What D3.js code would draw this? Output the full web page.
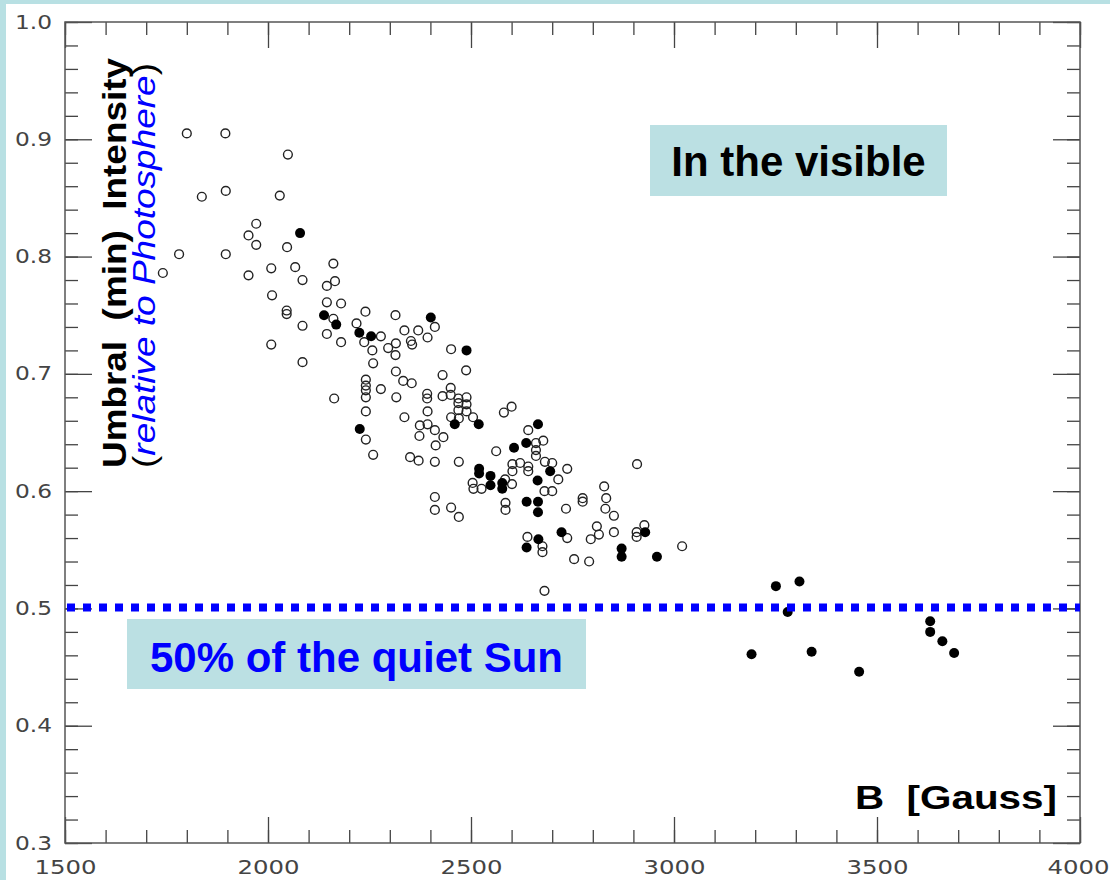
<!DOCTYPE html>
<html>
<head>
<meta charset="utf-8">
<script src="https://cdn.jsdelivr.net/npm/d3@7"></script>
<style>
  body { margin: 0; background: #b8e0e3; }
  svg { display: block; }
</style>
</head>
<body>
<div id="chart"></div>
<script>
// open circles: [B (Gauss), umbral intensity]
var openPoints = [
  [1800,0.905],[1895,0.905],[2049,0.887],[1837,0.851],[1896,0.856],[2029,0.852],[1971,0.828],[1952,0.818],
  [1971,0.810],[2047,0.808],[1781,0.802],[1896,0.802],[1741,0.786],[1952,0.784],[2008,0.790],[2067,0.791],
  [2085,0.780],[2161,0.794],[2165,0.779],[2145,0.775],[2010,0.767],[2145,0.761],[2180,0.760],[2046,0.754],
  [2046,0.751],[2085,0.741],[2161,0.747],[2145,0.734],[2180,0.727],[2008,0.725],[2085,0.710],
  [2240,0.753],[2218,0.743],[2237,0.727],[2278,0.732],[2314,0.750],[2257,0.720],[2296,0.722],[2315,0.726],
  [2314,0.716],[2259,0.709],[2336,0.737],[2370,0.737],[2393,0.731],[2411,0.740],[2352,0.728],[2355,0.725],
  [2315,0.702],[2333,0.694],[2354,0.692],[2278,0.687],[2241,0.695],[2241,0.690],[2241,0.686],[2241,0.680],
  [2241,0.668],[2163,0.679],[2316,0.680],[2241,0.644],[2259,0.631],[2336,0.663],[2392,0.683],[2392,0.679],
  [2393,0.668],[2430,0.681],[2450,0.688],[2450,0.682],[2469,0.679],[2469,0.675],[2469,0.669],[2489,0.680],
  [2489,0.674],[2489,0.668],[2451,0.663],[2470,0.662],[2505,0.663],[2430,0.699],[2451,0.721],[2488,0.703],
  [2374,0.656],[2393,0.657],[2411,0.652],[2373,0.647],[2432,0.646],[2413,0.639],[2350,0.629],[2371,0.626],
  [2411,0.625],[2470,0.625],[2411,0.595],[2411,0.584],[2451,0.586],[2470,0.578],
  [2581,0.667],[2600,0.672],[2641,0.652],[2660,0.641],[2678,0.643],[2660,0.635],[2660,0.630],[2562,0.634],
  [2602,0.623],[2602,0.617],[2621,0.624],[2641,0.621],[2641,0.617],[2682,0.625],[2700,0.624],[2715,0.610],
  [2681,0.600],[2700,0.600],[2504,0.607],[2506,0.602],[2526,0.602],[2584,0.610],[2601,0.606],[2585,0.590],
  [2585,0.584],[2639,0.561],[2737,0.619],[2734,0.585],[2775,0.594],[2775,0.591],[2828,0.604],[2833,0.594],
  [2831,0.585],[2852,0.579],[2909,0.623],[2676,0.553],[2676,0.548],[2737,0.560],[2810,0.570],[2815,0.563],
  [2795,0.559],[2852,0.565],[2908,0.565],[2927,0.571],[2908,0.561],[2754,0.542],[2791,0.540],[3020,0.553],
  [2681,0.515]
];

// filled dots
var filledPoints = [
  [2079,0.820],[2138,0.750],[2168,0.742],[2225,0.735],[2254,0.732],[2226,0.653],[2401,0.748],[2489,0.720],
  [2460,0.657],[2519,0.657],[2665,0.657],[2606,0.637],[2636,0.641],[2695,0.617],[2664,0.609],[2520,0.619],
  [2520,0.615],[2548,0.613],[2548,0.605],[2577,0.607],[2577,0.602],[2637,0.591],[2665,0.591],[2665,0.582],
  [2637,0.552],[2666,0.559],[2723,0.565],[2929,0.565],[2871,0.551],[2871,0.544],[2958,0.544],
  [3251,0.519],[3309,0.523],[3280,0.497],[3191,0.461],[3339,0.463],[3456,0.446],[3631,0.489],[3631,0.480],
  [3661,0.472],[3690,0.462]
];

var xTicks = [1500, 2000, 2500, 3000, 3500, 4000];
var yTicks = [0.3, 0.4, 0.5, 0.6, 0.7, 0.8, 0.9, 1.0];
var xDomain = [1500, 4000];
var yDomain = [0.3, 1.0];
var quietSunLevel = 0.5;

var width = 1110, height = 880;
var plot = { left: 65, top: 22, right: 1080, bottom: 843 };

var svg = d3.select("#chart")
  .append("svg")
  .attr("width", width)
  .attr("height", height);

// white page with the teal strip left and top
svg.append("rect")
  .attr("x", 6).attr("y", 4)
  .attr("width", width - 6).attr("height", height - 4)
  .attr("fill", "#fff");

var x = d3.scaleLinear().domain(xDomain).range([plot.left, plot.right]);
var y = d3.scaleLinear().domain(yDomain).range([plot.bottom, plot.top]);

var xMinor = d3.range(xDomain[0], xDomain[1] + 1, 100);
var yMinor = d3.range(0, 36).map(function (i) { return +(0.3 + i * 0.02).toFixed(2); });

function styleAxis(g) {
  g.select(".domain").remove();
  g.attr("color", "#444");
  g.selectAll(".tick line").attr("stroke-width", 1.3);
}

// minor ticks on all four sides
svg.append("g").attr("transform", "translate(0," + plot.bottom + ")")
  .call(d3.axisBottom(x).tickValues(xMinor).tickSize(-13).tickFormat("")).call(styleAxis);
svg.append("g").attr("transform", "translate(0," + plot.top + ")")
  .call(d3.axisTop(x).tickValues(xMinor).tickSize(-13).tickFormat("")).call(styleAxis);
svg.append("g").attr("transform", "translate(" + plot.left + ",0)")
  .call(d3.axisLeft(y).tickValues(yMinor).tickSize(-13).tickFormat("")).call(styleAxis);
svg.append("g").attr("transform", "translate(" + plot.right + ",0)")
  .call(d3.axisRight(y).tickValues(yMinor).tickSize(-13).tickFormat("")).call(styleAxis);

// major ticks
var xAxis = svg.append("g").attr("transform", "translate(0," + plot.bottom + ")")
  .call(d3.axisBottom(x).tickValues(xTicks).tickSizeInner(-26).tickSizeOuter(0).tickPadding(18)
    .tickFormat(d3.format("d")))
  .call(styleAxis);
svg.append("g").attr("transform", "translate(0," + plot.top + ")")
  .call(d3.axisTop(x).tickValues(xTicks).tickSize(-26).tickFormat("")).call(styleAxis);
var yAxis = svg.append("g").attr("transform", "translate(" + plot.left + ",0)")
  .call(d3.axisLeft(y).tickValues(yTicks).tickSizeInner(-27).tickSizeOuter(0).tickPadding(13)
    .tickFormat(d3.format(".1f")))
  .call(styleAxis);
svg.append("g").attr("transform", "translate(" + plot.right + ",0)")
  .call(d3.axisRight(y).tickValues(yTicks).tickSize(-27).tickFormat("")).call(styleAxis);

// wide, thin plotter-style tick labels
xAxis.selectAll("text")
  .attr("font-family", "DejaVu Sans").attr("font-size", 19)
  .attr("fill", "#444").attr("textLength", 62).attr("lengthAdjust", "spacingAndGlyphs")
  .attr("dx", function (d) { return d === xDomain[1] ? -2 : 0; }); // keep 4000 inside the page
yAxis.selectAll("text")
  .attr("font-family", "DejaVu Sans").attr("font-size", 19)
  .attr("fill", "#444").attr("textLength", 37).attr("lengthAdjust", "spacingAndGlyphs");

// frame
svg.append("rect")
  .attr("x", plot.left).attr("y", plot.top)
  .attr("width", plot.right - plot.left).attr("height", plot.bottom - plot.top)
  .attr("fill", "none").attr("stroke", "#555").attr("stroke-width", 1.5);

// points
svg.append("g").selectAll("circle")
  .data(openPoints)
  .enter()
  .append("circle")
  .attr("cx", function (d) { return x(d[0]); })
  .attr("cy", function (d) { return y(d[1]); })
  .attr("r", 4.4)
  .attr("fill", "none")
  .attr("stroke", "#222")
  .attr("stroke-width", 1.4);

svg.append("g").selectAll("circle")
  .data(filledPoints)
  .enter()
  .append("circle")
  .attr("cx", function (d) { return x(d[0]); })
  .attr("cy", function (d) { return y(d[1]); })
  .attr("r", 5)
  .attr("fill", "#000");

// 50% level, blue square dots
svg.append("line")
  .attr("x1", x(xDomain[0]) + 2).attr("x2", x(xDomain[1]))
  .attr("y1", y(quietSunLevel) - 1).attr("y2", y(quietSunLevel) - 1)
  .attr("stroke", "#0000ff")
  .attr("stroke-width", 8)
  .attr("stroke-dasharray", "8,8");

// y title, two rotated lines
svg.append("text")
  .attr("transform", "translate(126,468) rotate(-90)")
  .attr("font-family", "Liberation Sans, Arial, sans-serif")
  .attr("font-weight", "bold")
  .attr("font-size", 34)
  .attr("textLength", 410)
  .attr("lengthAdjust", "spacingAndGlyphs")
  .text("Umbral\u00a0\u00a0(min)\u00a0\u00a0Intensity");

var title2 = svg.append("text")
  .attr("transform", "translate(155,468) rotate(-90)")
  .attr("font-family", "Liberation Sans, Arial, sans-serif")
  .attr("font-size", 31)
  .attr("textLength", 405)
  .attr("lengthAdjust", "spacingAndGlyphs");
title2.append("tspan").text("(");
title2.append("tspan").attr("fill", "#0000ff").attr("font-style", "italic").text("relative to Photosphere");
title2.append("tspan").text(")");

// x title
svg.append("text")
  .attr("x", 855).attr("y", 809)
  .attr("font-family", "Liberation Sans, Arial, sans-serif")
  .attr("font-weight", "bold")
  .attr("font-size", 34)
  .attr("textLength", 202)
  .attr("lengthAdjust", "spacingAndGlyphs")
  .text("B\u00a0\u00a0[Gauss]");

// annotation boxes
var boxFill = "#bbe0e3";
svg.append("rect")
  .attr("x", 650).attr("y", 125).attr("width", 297).attr("height", 71)
  .attr("fill", boxFill);
svg.append("text")
  .attr("x", 798.5).attr("y", 175.5)
  .attr("text-anchor", "middle")
  .attr("font-family", "Liberation Sans, Arial, sans-serif")
  .attr("font-weight", "bold")
  .attr("font-size", 42)
  .attr("fill", "#000")
  .text("In the visible");

svg.append("rect")
  .attr("x", 127).attr("y", 619).attr("width", 459).attr("height", 70)
  .attr("fill", boxFill);
svg.append("text")
  .attr("x", 356.5).attr("y", 672)
  .attr("text-anchor", "middle")
  .attr("font-family", "Liberation Sans, Arial, sans-serif")
  .attr("font-weight", "bold")
  .attr("font-size", 42)
  .attr("fill", "#0000ff")
  .text("50% of the quiet Sun");
</script>
</body>
</html>
